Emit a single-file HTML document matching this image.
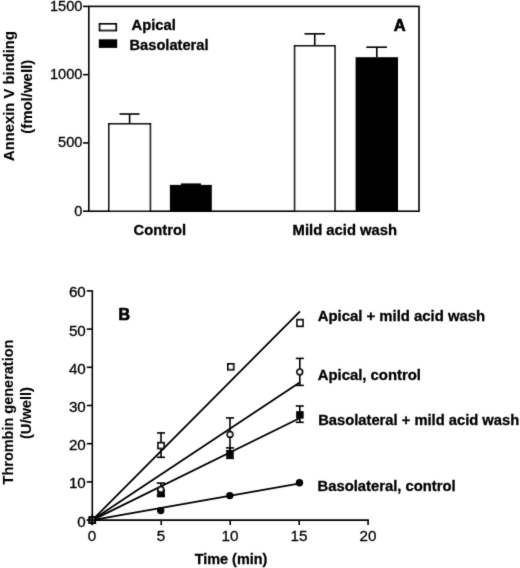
<!DOCTYPE html>
<html><head><meta charset="utf-8"><title>Figure</title>
<style>html,body{margin:0;padding:0;background:#fff;}svg{display:block;}text{font-family:"Liberation Sans",sans-serif;fill:#000;stroke:#000;stroke-width:0.3px;stroke-linejoin:round;}.rot text{stroke-width:0.12px;}text.pl{stroke-width:0.7px;}</style></head><body>
<svg width="520" height="568" viewBox="0 0 520 568">
<defs><filter id="soft" x="0" y="0" width="520" height="568" filterUnits="userSpaceOnUse"><feConvolveMatrix order="3" kernelMatrix="0.02 0.07 0.02 0.07 0.64 0.07 0.02 0.07 0.02" divisor="1" edgeMode="duplicate" preserveAlpha="false"/></filter></defs>
<rect x="0" y="0" width="520" height="568" fill="#fff"/>
<g filter="url(#soft)">
<g stroke="#000" stroke-width="1.6" fill="none">
<rect x="88.8" y="6.4" width="330.2" height="204.79999999999998"/>
<line x1="83.0" y1="211.20" x2="88.8" y2="211.20"/>
<line x1="83.0" y1="142.93" x2="88.8" y2="142.93"/>
<line x1="83.0" y1="74.67" x2="88.8" y2="74.67"/>
<line x1="83.0" y1="6.40" x2="88.8" y2="6.40"/>
</g>
<g stroke="#000" stroke-width="1.6">
<line x1="129.60" y1="114.0" x2="129.60" y2="123.8"/>
<line x1="119.5" y1="114.0" x2="139.5" y2="114.0"/>
<rect x="108.8" y="123.8" width="41.60" height="87.40" fill="#fff"/>
</g>
<g stroke="#000" stroke-width="1.6">
<line x1="190.85" y1="184.2" x2="190.85" y2="184.9"/>
<line x1="181.0" y1="184.2" x2="201.0" y2="184.2"/>
<rect x="169.9" y="184.9" width="41.90" height="26.30" fill="#000" stroke="none"/>
</g>
<g stroke="#000" stroke-width="1.6">
<line x1="314.75" y1="33.8" x2="314.75" y2="45.8"/>
<line x1="304.5" y1="33.8" x2="325.0" y2="33.8"/>
<rect x="294.6" y="45.8" width="40.30" height="165.40" fill="#fff"/>
</g>
<g stroke="#000" stroke-width="1.6">
<line x1="376.80" y1="47.2" x2="376.80" y2="57.2"/>
<line x1="366.3" y1="47.2" x2="387.0" y2="47.2"/>
<rect x="355.6" y="57.2" width="42.40" height="154.00" fill="#000" stroke="none"/>
</g>
<rect x="99.6" y="23.9" width="16.6" height="6.6" fill="#fff" stroke="#000" stroke-width="1.8"/>
<rect x="98.8" y="39.3" width="18.4" height="8.6" fill="#000"/>
<g font-weight="bold" font-size="14.3">
<text x="131.5" y="30.2" textLength="44.3" lengthAdjust="spacingAndGlyphs">Apical</text>
<text x="129.5" y="50.1" textLength="79" lengthAdjust="spacingAndGlyphs">Basolateral</text>
<text x="393.7" y="31.3" font-size="16.5" class="pl">A</text>
<text x="133.6" y="234.7" textLength="52.4" lengthAdjust="spacingAndGlyphs">Control</text>
<text x="292.6" y="235.3" textLength="104.5" lengthAdjust="spacingAndGlyphs">Mild acid wash</text>
</g>
<g font-size="14.6" text-anchor="end">
<text x="82.4" y="215.60">0</text>
<text x="82.4" y="147.33">500</text>
<text x="82.4" y="79.07">1000</text>
<text x="82.4" y="10.80">1500</text>
</g>
<g font-weight="bold" font-size="14.5" text-anchor="middle" class="rot">
<text transform="translate(13.6,96.05) rotate(-90)" textLength="130" lengthAdjust="spacingAndGlyphs">Annexin V binding</text>
<text transform="translate(31.5,96.8) rotate(-90)" textLength="74" lengthAdjust="spacingAndGlyphs">(fmol/well)</text>
<text transform="translate(13.4,412.05) rotate(-90)" textLength="144.8" lengthAdjust="spacingAndGlyphs">Thrombin generation</text>
<text transform="translate(31.0,413) rotate(-90)" textLength="52" lengthAdjust="spacingAndGlyphs">(U/well)</text>
</g>
<g stroke="#000" stroke-width="1.6" fill="none">
<line x1="92.3" y1="290.15" x2="92.3" y2="520.85"/>
<line x1="91.55" y1="520.1" x2="368.85" y2="520.1"/>
<line x1="86.8" y1="520.10" x2="92.3" y2="520.10"/>
<line x1="86.8" y1="481.90" x2="92.3" y2="481.90"/>
<line x1="86.8" y1="443.70" x2="92.3" y2="443.70"/>
<line x1="86.8" y1="405.50" x2="92.3" y2="405.50"/>
<line x1="86.8" y1="367.30" x2="92.3" y2="367.30"/>
<line x1="86.8" y1="329.10" x2="92.3" y2="329.10"/>
<line x1="86.8" y1="290.90" x2="92.3" y2="290.90"/>
<line x1="92.30" y1="520.1" x2="92.30" y2="525.1"/>
<line x1="161.25" y1="520.1" x2="161.25" y2="525.1"/>
<line x1="230.20" y1="520.1" x2="230.20" y2="525.1"/>
<line x1="299.15" y1="520.1" x2="299.15" y2="525.1"/>
<line x1="368.10" y1="520.1" x2="368.10" y2="525.1"/>
</g>
<g font-size="15.2" text-anchor="end">
<text x="85.8" y="526.60">0</text>
<text x="85.8" y="488.40">10</text>
<text x="85.8" y="450.20">20</text>
<text x="85.8" y="412.00">30</text>
<text x="85.8" y="373.80">40</text>
<text x="85.8" y="335.60">50</text>
<text x="85.8" y="297.40">60</text>
</g>
<g font-size="15.2" text-anchor="middle">
<text x="92.10" y="541.0">0</text>
<text x="161.05" y="541.0">5</text>
<text x="230.00" y="541.0">10</text>
<text x="298.95" y="541.0">15</text>
<text x="367.90" y="541.0">20</text>
</g>
<g stroke="#000" stroke-width="1.8" fill="none">
<line x1="92.3" y1="520.1" x2="300.0" y2="311.3"/>
<line x1="92.3" y1="520.1" x2="300.0" y2="382.2"/>
<line x1="92.3" y1="520.1" x2="300.0" y2="418.0"/>
<line x1="92.3" y1="520.1" x2="300.0" y2="483.4"/>
</g>
<circle cx="92.3" cy="520.1" r="3.7" fill="#000"/>
<circle cx="160.7" cy="510.6" r="3.7" fill="#000"/>
<circle cx="229.8" cy="495.6" r="3.7" fill="#000"/>
<circle cx="299.5" cy="482.8" r="3.7" fill="#000"/>
<rect x="88.55" y="516.35" width="7.5" height="7.5" fill="#000"/>
<g stroke="#000" stroke-width="1.6" fill="none"><line x1="161" y1="490.5" x2="161" y2="496.5"/><line x1="157.0" y1="490.5" x2="165.0" y2="490.5"/><line x1="157.0" y1="496.5" x2="165.0" y2="496.5"/></g>
<rect x="157.25" y="489.25" width="7.5" height="7.5" fill="#000"/>
<g stroke="#000" stroke-width="1.6" fill="none"><line x1="230" y1="447.9" x2="230" y2="458.3"/><line x1="226.0" y1="447.9" x2="234.0" y2="447.9"/><line x1="226.0" y1="458.3" x2="234.0" y2="458.3"/></g>
<rect x="226.25" y="450.25" width="7.5" height="7.5" fill="#000"/>
<g stroke="#000" stroke-width="1.6" fill="none"><line x1="299.8" y1="406.0" x2="299.8" y2="422.3"/><line x1="295.8" y1="406.0" x2="303.8" y2="406.0"/><line x1="295.8" y1="422.3" x2="303.8" y2="422.3"/></g>
<rect x="296.15" y="411.15" width="7.5" height="7.5" fill="#000"/>
<g stroke="#000" stroke-width="1.6" fill="none"><line x1="160.9" y1="483.1" x2="160.9" y2="495.5"/><line x1="156.70000000000002" y1="483.1" x2="165.1" y2="483.1"/><line x1="156.70000000000002" y1="495.5" x2="165.1" y2="495.5"/></g>
<circle cx="160.9" cy="489.4" r="2.8" fill="#fff" stroke="#000" stroke-width="1.8"/>
<g stroke="#000" stroke-width="1.6" fill="none"><line x1="230" y1="417.9" x2="230" y2="450.9"/><line x1="226.0" y1="417.9" x2="234.0" y2="417.9"/><line x1="226.0" y1="450.9" x2="234.0" y2="450.9"/></g>
<circle cx="230" cy="434.4" r="2.8" fill="#fff" stroke="#000" stroke-width="1.8"/>
<g stroke="#000" stroke-width="1.6" fill="none"><line x1="299.8" y1="358.4" x2="299.8" y2="385.4"/><line x1="295.8" y1="358.4" x2="303.8" y2="358.4"/><line x1="295.8" y1="385.4" x2="303.8" y2="385.4"/></g>
<circle cx="299.8" cy="371.9" r="2.8" fill="#fff" stroke="#000" stroke-width="1.8"/>
<rect x="89.39999999999999" y="517.2" width="5.8" height="5.8" fill="#777" stroke="#000" stroke-width="1.8"/>
<g stroke="#000" stroke-width="1.6"><line x1="92.3" y1="514.1" x2="92.3" y2="525.1"/><line x1="86.8" y1="520.1" x2="100.3" y2="520.1"/></g>
<g stroke="#000" stroke-width="1.6" fill="none"><line x1="161" y1="432.9" x2="161" y2="457.3"/><line x1="157.0" y1="432.9" x2="165.0" y2="432.9"/><line x1="157.0" y1="457.3" x2="165.0" y2="457.3"/></g>
<rect x="158.1" y="442.70000000000005" width="5.8" height="5.8" fill="#fff" stroke="#000" stroke-width="1.8"/>
<rect x="227.9" y="363.90000000000003" width="5.8" height="5.8" fill="#fff" stroke="#000" stroke-width="1.8"/>
<rect x="297.1" y="319.7" width="5.8" height="6.6" fill="#fff" stroke="#000" stroke-width="1.8"/>
<g font-weight="bold" font-size="14.5">
<text x="118.6" y="320.2" font-size="16" class="pl">B</text>
<text x="194.8" y="564.2" textLength="72.5" lengthAdjust="spacingAndGlyphs">Time (min)</text>
<text x="317.7" y="320.8" textLength="167.5" lengthAdjust="spacingAndGlyphs">Apical + mild acid wash</text>
<text x="317.7" y="380.0" textLength="103.3" lengthAdjust="spacingAndGlyphs">Apical, control</text>
<text x="318.2" y="424.5" textLength="201" lengthAdjust="spacingAndGlyphs">Basolateral + mild acid wash</text>
<text x="317.5" y="490.8" textLength="138.2" lengthAdjust="spacingAndGlyphs">Basolateral, control</text>
</g>
</g>
</svg></body></html>
